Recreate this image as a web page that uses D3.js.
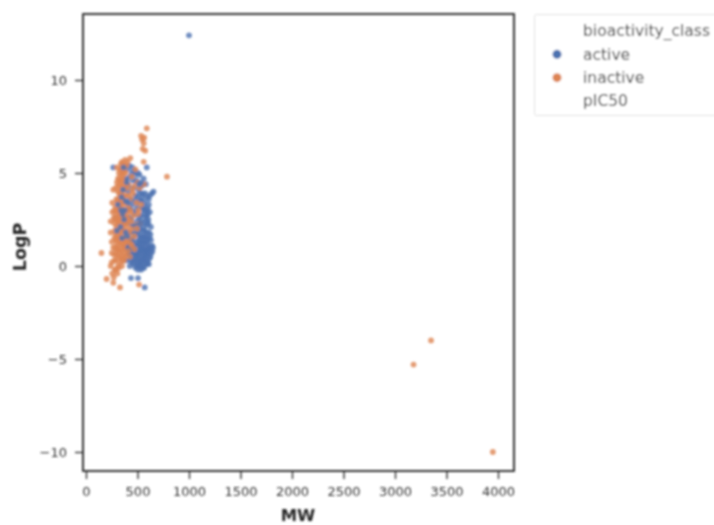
<!DOCTYPE html>
<html>
<head>
<meta charset="utf-8">
<script src="https://cdn.jsdelivr.net/npm/d3@7"></script>
<style>
  html, body { margin: 0; padding: 0; background: #fff; }
  svg { display: block; }
  text { font-family: "DejaVu Sans", sans-serif; }
</style>
</head>
<body>
<div id="chart"></div>
<script>
// [MW, LogP]
var activePoints = [
  [1000,12.4],[265,5.3],[590,5.3],[655,4.0],[570,-1.15],[437,-0.65],[505,-0.65],[620,3.8],[610,3.6],[640,3.9],
  [420,5.4],[450,5.3],[470,5.1],[400,5.2],[520,4.9],[560,4.7],[490,4.6],[430,4.8],[540,4.3],[580,4.4],
  [460,4.2],[510,4.1],[410,4.3],[550,3.9],[590,3.7],[480,3.8],[430,3.6],[520,3.5],[570,3.4],[610,3.3],
  [450,3.3],[500,3.2],[545,3.1],[590,3.0],[620,2.9],[405,3.0],[470,2.8],[530,2.7],[575,2.6],[605,2.5],
  [290,2.6],[440,2.5],[495,2.4],[550,2.3],[595,2.2],[630,2.1],[400,2.3],[465,2.1],[525,2.0],[570,1.9],
  [610,1.8],[345,1.9],[430,1.8],[490,1.7],[545,1.6],[590,1.5],[630,1.4],[455,1.5],[515,1.4],[565,1.3],
  [600,1.2],[640,1.1],[420,1.2],[480,1.1],[535,1.0],[580,0.9],[620,0.9],[650,1.0],[445,0.9],[505,0.8],
  [555,0.7],[600,0.6],[635,0.7],[410,0.7],[470,0.6],[525,0.5],[575,0.4],[615,0.4],[440,0.4],[495,0.3],
  [545,0.2],[590,0.1],[385,0.3],[460,0.1],[515,0.0],[565,-0.1],[600,0.2],[425,0.0],[480,-0.1],[535,-0.2],
  [400,4.7],[455,4.6],[505,5.0],[535,4.5],[575,3.9],[415,4.0],[475,3.5],[525,3.9],[560,3.2],[600,2.8],
  [425,3.1],[485,3.0],[515,2.6],[560,2.8],[585,2.4],[420,2.6],[455,2.2],[510,2.2],[560,2.1],[605,2.3],
  [440,1.4],[470,1.8],[530,1.5],[575,1.6],[615,1.5],[460,1.2],[510,1.1],[555,1.2],[595,0.9],[625,0.5],
  [430,0.6],[490,0.6],[540,0.8],[580,0.6],[610,1.0],[415,0.9],[450,0.2],[505,0.1],[555,0.4],[590,0.3],
  [470,0.9],[520,0.7],[565,0.9],[540,0.3],[505,-0.2],[480,0.3],[520,1.2],[550,1.9],[590,2.7],[540,3.5],
  [475,4.9],[445,5.0],[515,4.4],[500,3.7],[545,3.7],[565,3.0],[535,2.4],[600,3.1],[585,1.8],[625,1.7],
  [500,1.9],[450,1.0],[495,1.3],[540,1.3],[585,1.2],[605,0.7],[560,0.5],[530,0.0],[570,0.1],[610,0.1],
  [440,0.8],[465,0.4],[485,0.8],[510,0.4],[530,0.9],[550,1.0],[575,0.7],[595,1.4],[630,1.0],[645,0.8],
  [410,1.0],[425,0.3],[455,0.7],[500,0.6],[525,0.2],[550,-0.1],[495,0.0],[590,0.8],[560,1.5],[520,1.7],
  [360,4.1],[385,3.5],[340,3.0],[310,3.3],[370,2.5],[335,2.1],[385,1.8],[350,1.5],[375,3.0],[395,4.5],
  [365,5.3],[345,3.7],[410,3.4],[400,1.6],[300,1.9],[355,2.8]
];
var inactivePoints = [
  [3950,-10.0],[3180,-5.3],[3350,-4.0],[150,0.7],[786,4.8],[590,7.4],[545,6.8],[560,6.6],[535,7.0],[550,6.3],
  [575,6.2],[565,6.9],[200,-0.7],[270,-0.6],[265,-0.9],[330,-1.15],[515,-1.0],[255,-0.4],[280,-0.2],[240,0.0],
  [430,5.8],[380,5.7],[340,5.5],[560,5.6],[350,5.2],[320,5.0],[370,5.1],[390,5.4],[335,4.8],[365,4.7],
  [300,4.5],[330,4.4],[355,4.3],[380,4.6],[265,4.1],[310,4.0],[345,3.9],[375,4.1],[470,4.3],[520,4.2],
  [560,4.4],[500,4.5],[295,3.6],[325,3.7],[360,3.5],[390,3.8],[255,3.4],[285,3.2],[315,3.1],[350,3.2],
  [440,3.6],[380,3.0],[255,2.9],[290,2.8],[325,2.7],[360,2.6],[395,2.8],[440,3.0],[240,2.4],[275,2.3],
  [310,2.2],[345,2.3],[380,2.1],[420,2.2],[480,2.2],[520,2.3],[240,1.8],[280,1.9],[320,1.8],[355,1.7],
  [395,1.6],[435,1.8],[250,1.3],[290,1.4],[330,1.3],[365,1.2],[400,1.4],[445,1.3],[265,1.0],[305,0.9],
  [345,0.8],[385,0.9],[425,1.0],[275,0.6],[315,0.5],[355,0.5],[395,0.6],[290,0.3],[330,0.2],[370,0.3],
  [250,0.2],[310,0.0],[350,0.0],[290,-0.2],[300,5.3],[345,5.0],[325,4.6],[360,4.9],[290,4.2],[340,4.1],
  [370,3.7],[305,3.5],[335,3.3],[400,3.3],[275,3.0],[340,2.9],[375,2.7],[300,2.6],[270,2.6],[335,2.5],
  [410,2.5],[295,2.1],[330,2.0],[365,1.9],[405,1.9],[300,1.6],[340,1.5],[380,1.4],[420,1.5],[275,1.5],
  [320,1.1],[360,1.0],[400,1.1],[290,0.8],[330,0.7],[370,0.7],[300,1.2],[345,1.9],[315,2.9],[385,2.4],
  [410,4.4],[450,4.1],[355,3.0],[325,3.9],[345,3.5],[315,4.3],[285,1.0],[250,0.7],[310,2.4],[360,2.2],
  [350,5.6],[375,5.4],[405,5.6],[330,5.2],[355,5.4],[385,5.0],[340,4.6],[310,4.7],[370,4.4],[395,4.2],
  [320,3.4],[350,3.8],[380,3.4],[415,3.1],[300,3.0],[330,3.1],[365,2.9],[400,2.6],[285,2.5],[350,2.7],
  [320,2.4],[375,2.3],[440,2.4],[290,1.7],[325,1.6],[360,1.4],[395,1.2],[430,1.2],[310,1.4],[350,1.2],
  [375,1.0],[300,0.6],[340,0.4],[380,0.5],[320,0.9],[355,0.3],[410,0.8],[275,0.3],[320,-0.1],[305,-0.4],
  [445,4.8],[490,3.4],[460,2.7],[505,2.8],[470,1.6],[430,2.9],[415,3.8],[535,3.3],[455,3.9],[480,5.2],
  [510,3.0],[440,2.0],[495,2.0],[470,0.9],[425,0.5],[445,1.1]
];

var classNames = ["active", "inactive"];
var classColors = ["#4c72b0", "#dd8452"];
var legendRows = ["bioactivity_class", "active", "inactive", "pIC50"];
var xTickValues = [0, 500, 1000, 1500, 2000, 2500, 3000, 3500, 4000];
var yTickValues = [-10, -5, 0, 5, 10];

var w = 714, h = 525;
var plot = {left: 83, right: 514, top: 14, bottom: 471};

var svg = d3.select("#chart").append("svg")
    .attr("width", w)
    .attr("height", h);

// the reference is a soft, upscaled image
svg.append("filter").attr("id", "soft")
    .attr("filterUnits", "userSpaceOnUse")
    .attr("x", 0).attr("y", 0)
    .attr("width", w).attr("height", h)
    .append("feGaussianBlur").attr("stdDeviation", 1);

var g = svg.append("g").attr("filter", "url(#soft)");

var x = d3.scaleLinear().domain([0, 4000]).range([86, 498]);
var y = d3.scaleLinear().domain([-10, 10]).range([452, 80]);

// active and inactive rows are mixed in the frame, so zip them
var rows = [];
d3.range(Math.max(activePoints.length, inactivePoints.length)).forEach(function (i) {
    if (inactivePoints[i]) rows.push({p: inactivePoints[i], c: 1});
    if (activePoints[i]) rows.push({p: activePoints[i], c: 0});
});

g.selectAll("circle.pt")
    .data(rows).enter().append("circle")
    .attr("class", "pt")
    .attr("cx", function (d) { return x(d.p[0]); })
    .attr("cy", function (d) { return y(d.p[1]); })
    .attr("r", 2.9)
    .attr("fill", function (d) { return classColors[d.c]; })
    .attr("fill-opacity", 0.8);

// axes
var xAxis = g.append("g")
    .attr("transform", "translate(0," + plot.bottom + ")")
    .call(d3.axisBottom(x).tickValues(xTickValues).tickFormat(d3.format("d")).tickSize(8).tickPadding(8));
var yAxis = g.append("g")
    .attr("transform", "translate(" + plot.left + ",0)")
    .call(d3.axisLeft(y).tickValues(yTickValues).tickFormat(function (d) { return String(d).replace("-", "\u2212"); }).tickSize(8).tickPadding(8));

[xAxis, yAxis].forEach(function (a) {
    a.select(".domain").remove();
    a.selectAll("line").attr("stroke", "#333").attr("stroke-width", 1.4);
    a.selectAll("text").attr("fill", "#333").style("font-size", "13px").style("font-family", "DejaVu Sans");
});

// frame
g.append("rect")
    .attr("x", plot.left)
    .attr("y", plot.top)
    .attr("width", plot.right - plot.left)
    .attr("height", plot.bottom - plot.top)
    .attr("fill", "none")
    .attr("stroke", "#222")
    .attr("stroke-width", 1.8);

// axis labels
g.append("text")
    .attr("x", 298).attr("y", 521)
    .attr("text-anchor", "middle")
    .attr("fill", "#262626")
    .style("font-size", "16.5px").style("font-weight", "bold")
    .text("MW");
g.append("text")
    .attr("transform", "translate(26,247) rotate(-90)")
    .attr("text-anchor", "middle")
    .attr("fill", "#262626")
    .style("font-size", "17.5px").style("font-weight", "bold")
    .text("LogP");

// legend
g.append("rect")
    .attr("x", 534.5).attr("y", 14.5)
    .attr("width", 190).attr("height", 101)
    .attr("rx", 2)
    .attr("fill", "#fff")
    .attr("stroke", "#e0e0e0");

var legendY = d3.scalePoint().domain(legendRows).range([31, 101]);

g.selectAll("text.leg")
    .data(legendRows).enter().append("text")
    .attr("class", "leg")
    .attr("x", 583)
    .attr("y", function (d) { return legendY(d); })
    .attr("dy", "0.35em")
    .attr("fill", "#333")
    .style("font-size", "15.5px")
    .text(function (d) { return d; });

g.selectAll("circle.leg")
    .data(classNames).enter().append("circle")
    .attr("class", "leg")
    .attr("cx", 557)
    .attr("cy", function (d) { return legendY(d); })
    .attr("r", 4.5)
    .attr("fill", function (d, i) { return classColors[i]; });
</script>
</body>
</html>
